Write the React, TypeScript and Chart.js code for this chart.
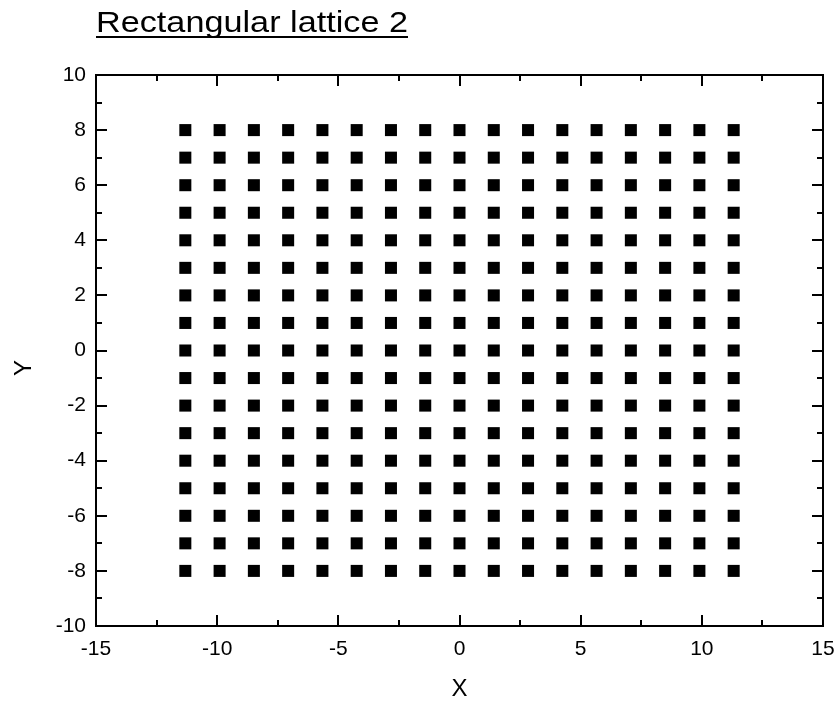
import React, { useEffect, useRef } from "react";
import { Chart, registerables } from "chart.js";

Chart.register(...registerables);

// Lattice: columns spaced by sqrt(2), rows spaced by 1
const columnIndices = [-8, -7, -6, -5, -4, -3, -2, -1, 0, 1, 2, 3, 4, 5, 6, 7, 8];
const rowValues = [-8, -7, -6, -5, -4, -3, -2, -1, 0, 1, 2, 3, 4, 5, 6, 7, 8];
const columnSpacing = 1.41421;

const xMajorTicks = [-15, -10, -5, 0, 5, 10, 15];
const xMinorTicks = [-12.5, -7.5, -2.5, 2.5, 7.5, 12.5];
const yMajorTicks = [-10, -8, -6, -4, -2, 0, 2, 4, 6, 8, 10];
const yMinorTicks = [-9, -7, -5, -3, -1, 1, 3, 5, 7, 9];

const chartTitle = "Rectangular lattice 2";
const xTitle = "X";
const yTitle = "Y";

const FONT = "Arial, 'Liberation Sans', sans-serif";

const framePlugin = {
  id: "frameAndTitles",
  afterDraw(chart: any) {
    const { ctx, chartArea, scales } = chart;
    const { left, right, top, bottom } = chartArea;
    const xs = scales.x;
    const ys = scales.y;
    ctx.save();
    ctx.strokeStyle = "#000";
    ctx.lineWidth = 2;
    ctx.lineCap = "butt";
    ctx.strokeRect(left, top, right - left, bottom - top);

    const major = 11;
    const minor = 6;
    ctx.beginPath();
    const xt = (v: number, len: number) => {
      const px = Math.round(xs.getPixelForValue(v));
      ctx.moveTo(px, bottom);
      ctx.lineTo(px, bottom - len);
      ctx.moveTo(px, top);
      ctx.lineTo(px, top + len);
    };
    const yt = (v: number, len: number) => {
      const py = Math.round(ys.getPixelForValue(v));
      ctx.moveTo(left, py);
      ctx.lineTo(left + len, py);
      ctx.moveTo(right, py);
      ctx.lineTo(right - len, py);
    };
    xMajorTicks.forEach((v) => xt(v, major));
    xMinorTicks.forEach((v) => xt(v, minor));
    yMajorTicks.forEach((v) => yt(v, major));
    yMinorTicks.forEach((v) => yt(v, minor));
    ctx.stroke();

    // Title, underlined
    ctx.fillStyle = "#000";
    ctx.font = `29px ${FONT}`;
    ctx.textAlign = "left";
    ctx.textBaseline = "alphabetic";
    const w = ctx.measureText(chartTitle).width;
    const targetW = 312;
    ctx.save();
    ctx.translate(96, 32);
    ctx.scale(targetW / w, 1);
    ctx.fillText(chartTitle, 0, 0);
    ctx.restore();
    ctx.fillRect(96, 36, targetW, 2);

    // Axis titles
    ctx.font = `24px ${FONT}`;
    ctx.textAlign = "center";
    ctx.textBaseline = "middle";
    ctx.fillText(xTitle, (left + right) / 2, 689);
    ctx.save();
    ctx.translate(24, 368);
    ctx.rotate(-Math.PI / 2);
    ctx.fillText(yTitle, 0, 0);
    ctx.restore();
    ctx.restore();
  },
};

const noEdgePadding = (s: any) => {
  s.paddingLeft = 0;
  s.paddingRight = 0;
  s.paddingTop = 0;
  s.paddingBottom = 0;
};

export default function App() {
  const ref = useRef<HTMLCanvasElement>(null);

  useEffect(() => {
    if (!ref.current) return;
    const points: { x: number; y: number }[] = [];
    for (const y of rowValues) {
      for (const k of columnIndices) {
        points.push({ x: k * columnSpacing, y });
      }
    }
    const chart = new Chart(ref.current, {
      type: "scatter",
      data: {
        datasets: [
          {
            data: points,
            pointStyle: "rect",
            pointRadius: 8.5,
            pointBorderWidth: 0,
            backgroundColor: "#000",
            borderColor: "#000",
          },
        ],
      },
      options: {
        responsive: false,
        animation: false,
        layout: { padding: { left: 0, right: 15, top: 75, bottom: 0 } },
        plugins: {
          legend: { display: false },
          tooltip: { enabled: false },
          title: { display: false },
        },
        scales: {
          x: {
            type: "linear",
            min: -15,
            max: 15,
            afterFit: (s: any) => {
              s.height = 76;
              noEdgePadding(s);
            },
            afterBuildTicks: (s: any) => {
              s.ticks = xMajorTicks.map((v) => ({ value: v }));
            },
            grid: { display: false, drawTicks: false },
            border: { display: false },
            ticks: {
              padding: 11,
              color: "#000",
              font: { family: FONT, size: 21 },
              maxRotation: 0,
            },
          },
          y: {
            type: "linear",
            min: -10,
            max: 10,
            afterFit: (s: any) => {
              s.width = 96;
              noEdgePadding(s);
            },
            afterBuildTicks: (s: any) => {
              s.ticks = yMajorTicks.map((v) => ({ value: v }));
            },
            grid: { display: false, drawTicks: false },
            border: { display: false },
            ticks: {
              padding: 10,
              color: "#000",
              font: { family: FONT, size: 21 },
            },
          },
        },
      },
      plugins: [framePlugin],
    });
    return () => chart.destroy();
  }, []);

  return (
    <div style={{ position: "absolute", left: 0, top: 0, background: "#fff" }}>
      <canvas ref={ref} width={838} height={702} style={{ display: "block" }} />
    </div>
  );
}
